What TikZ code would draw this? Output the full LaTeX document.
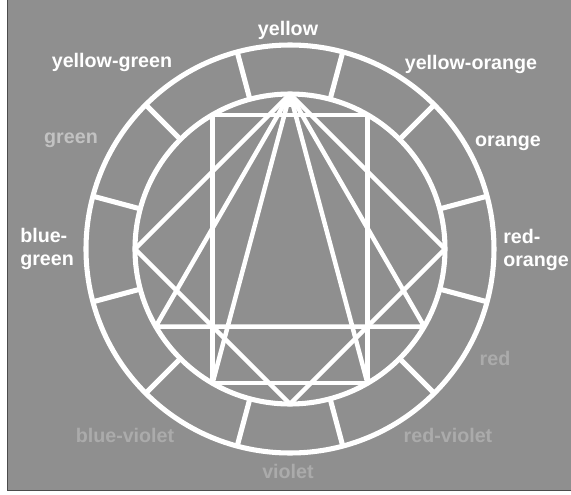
\documentclass[tikz,border=0pt]{standalone}
\usepackage{fontspec}
\setmainfont{Liberation Sans}
\definecolor{scan}{gray}{0.56}
\definecolor{dim}{gray}{0.76}
\definecolor{faint}{gray}{0.67}

\begin{document}
\begin{tikzpicture}[
	wheel/.style={white, line width=3.6pt},
	chord/.style={white, line width=3.2pt, line join=round, line cap=round},
	hue/.style={text=white, font=\bfseries\fontsize{14}{16.5}\selectfont, inner sep=0pt},
]
	\useasboundingbox (-7.25,-6.15) rectangle (7.025,6.225);
	\fill[white] (-7.25,-6.15) rectangle (7.025,6.225);
	\fill[scan] (-7.075,-6.025) rectangle (7.025,6.225);
	\draw[black!70, line width=0.6pt] (-7.075,6.225) -- (-7.075,-6.025) -- (7.025,-6.025);
	\newcommand\rout{5.1}
	\newcommand\rin{3.875}
	\draw[wheel] (0,0) circle (\rout);
	\draw[wheel] (0,0) circle (\rin);
	\foreach \a in {15,45,...,345} {
		\draw[wheel] (\a:\rin) -- (\a:\rout);
	}
	\coordinate (y) at (90:\rin);
	\coordinate (yo) at (60:\rin);
	\coordinate (ro) at (0:\rin);
	\coordinate (r) at (-30:\rin);
	\coordinate (rv) at (-60:\rin);
	\coordinate (v) at (-90:\rin);
	\coordinate (bv) at (-120:\rin);
	\coordinate (b) at (-150:\rin);
	\coordinate (bg) at (180:\rin);
	\coordinate (yg) at (120:\rin);
	\draw[chord] (y) -- (ro) -- (v) -- (bg) -- cycle;
	\draw[chord] (y) -- (r) -- (b) -- cycle;
	\draw[chord] (yg) -- (yo) -- (rv) -- (bv) -- cycle;
	\draw[chord] (bv) -- (y) -- (rv);
	\fill[white] (y) ++(-0.3,-0.32) -- (y) -- ++(0.3,-0.32) -- cycle;
	\node[hue] (yellow) at (-0.05,5.475) {yellow};
	\node[hue] (yellowgreen) at (-4.45,4.675) {yellow-green};
	\node[hue] (yelloworange) at (4.525,4.625) {yellow-orange};
	\node[hue, text=dim] (green) at (-5.475,2.725) {green};
	\node[hue] (orange) at (5.45,2.65) {orange};
	\node[hue, anchor=west, align=left] (bluegreen) at (-6.75,0) {blue-\\green};
	\node[hue, anchor=west, align=left] (redorange) at (5.325,-0.025) {red-\\orange};
	\node[hue, text=faint] (red) at (5.125,-2.725) {red};
	\node[hue, text=faint] (blueviolet) at (-4.125,-4.65) {blue-violet};
	\node[hue, text=faint] (redviolet) at (3.95,-4.65) {red-violet};
	\node[hue, text=faint] (violet) at (-0.05,-5.55) {violet};
\end{tikzpicture}
\end{document}
